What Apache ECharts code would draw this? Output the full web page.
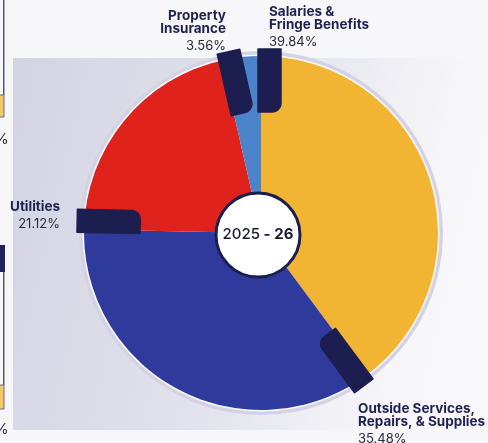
<!DOCTYPE html>
<html>
<head>
<meta charset="utf-8">
<script src="https://cdn.jsdelivr.net/npm/echarts@6/dist/echarts.min.js"></script>
<style>
  html, body { margin: 0; padding: 0; background: #f7f7fa; }
  #chart { width: 488px; height: 443px; }
</style>
</head>
<body>
<div id="chart"></div>
<script>
// Operating budget shares, clockwise from 12 o'clock
const categories = ['Salaries &\nFringe Benefits', 'Outside Services,\nRepairs, & Supplies', 'Utilities', 'Property\nInsurance'];
const shares = [39.84, 35.48, 21.12, 3.56];
const sliceColors = ['#F2B433', '#2E3B9D', '#E0221C', '#4C84CB'];
const fiscalYear = ['2025', '26'];

// Layout
const CX = 261, CY = 233, R = 177;
const NAVY = '#1C1E50';
const labelSpots = [
  { x: 269, y: 5, align: 'left' },
  { x: 358, y: 402, align: 'left' },
  { x: 60, y: 200, align: 'right' },
  { x: 226, y: 9, align: 'right' }
];

const chart = echarts.init(document.getElementById('chart'), null, { renderer: 'canvas' });

// Dark tab laid along the starting edge of each slice (angle measured clockwise from top)
function tabShape(thetaDeg) {
  const t = thetaDeg * Math.PI / 180;
  const ax = [Math.sin(t), -Math.cos(t)];
  const pv = [Math.cos(t), Math.sin(t)];
  const map = (u, v) => [CX + u * ax[0] + v * pv[0], CY + u * ax[1] + v * pv[1]];
  const r1 = R - 56, r2 = R + 7, v0 = -3, v1 = 20, rc = 9;
  const pts = [map(r2, v0), map(r2, v1)];
  for (let k = 0; k <= 8; k++) {
    const a = k / 8 * Math.PI / 2;
    pts.push(map(r1 + rc - rc * Math.sin(a), v1 - rc + rc * Math.cos(a)));
  }
  pts.push(map(r1, v0));
  return pts;
}

const total = shares.reduce((s, v) => s + v, 0);
const tabs = [];
let cum = 0;
shares.forEach((v) => {
  tabs.push({
    type: 'polygon', z: 5, silent: true,
    shape: { points: tabShape(360 * cum / total) },
    style: { fill: NAVY, stroke: NAVY, lineWidth: 1.5, lineJoin: 'round' }
  });
  cum += v;
});

const option = {
  animation: false,
  backgroundColor: '#f7f7fa',
  graphic: { elements: [
    // panel behind the chart
    {
      type: 'rect', z: 0, silent: true,
      shape: { x: 13, y: 58, width: 475, height: 372 },
      style: { fill: new echarts.graphic.LinearGradient(0, 0, 1, 0.3, [
        { offset: 0, color: '#d3d3e3' },
        { offset: 0.55, color: '#e3e3ed' },
        { offset: 0.9, color: '#f6f6f9' },
        { offset: 1, color: '#f8f8fa' }
      ]) }
    },
    // edge of the neighbouring page
    { type: 'rect', z: 0, silent: true, shape: { x: 3, y: 0, width: 1.5, height: 95 }, style: { fill: '#55586a' } },
    { type: 'rect', z: 0, silent: true, shape: { x: -2, y: 95, width: 6, height: 22 }, style: { fill: '#f2c86a', stroke: '#6a6a78', lineWidth: 1 } },
    { type: 'text', z: 0, silent: true, style: { x: -6, y: 132, text: '%', font: '15px Inter, sans-serif', fill: '#2a2a3a' } },
    { type: 'rect', z: 0, silent: true, shape: { x: -2, y: 245, width: 7, height: 27 }, style: { fill: '#1f2257' } },
    { type: 'rect', z: 0, silent: true, shape: { x: 3, y: 272, width: 1.5, height: 113 }, style: { fill: '#55586a' } },
    { type: 'rect', z: 0, silent: true, shape: { x: -2, y: 385, width: 6, height: 24 }, style: { fill: '#f2c86a', stroke: '#6a6a78', lineWidth: 1 } },
    { type: 'text', z: 0, silent: true, style: { x: -6, y: 422, text: '%', font: '15px Inter, sans-serif', fill: '#2a2a3a' } },
    // rim around the pie
    { type: 'circle', z: 1, silent: true, shape: { cx: CX, cy: CY, r: R + 5 }, style: { fill: '#d4d2e5' } },
    { type: 'circle', z: 1, silent: true, shape: { cx: CX, cy: CY, r: R + 1.5 }, style: { fill: '#fbfbfd' } },
    ...tabs,
    // centre badge
    {
      type: 'circle', z: 6, silent: true,
      shape: { cx: CX - 3, cy: CY + 2, r: 42 },
      style: { fill: '#ffffff', stroke: NAVY, lineWidth: 3 }
    },
    {
      type: 'text', z: 7, silent: true,
      x: CX - 3, y: CY + 1,
      style: {
        text: '{a|' + fiscalYear[0] + '}{b| - ' + fiscalYear[1] + '}',
        align: 'center', verticalAlign: 'middle',
        rich: {
          a: { font: '500 15px Inter, sans-serif', fill: '#1a1a2e' },
          b: { font: '700 15px Inter, sans-serif', fill: '#1a1a2e' }
        }
      }
    }
  ]},
  series: [{
    type: 'pie',
    z: 2,
    center: [CX, CY],
    radius: [0, R],
    startAngle: 90,
    clockwise: true,
    silent: true,
    emphasis: { disabled: true },
    avoidLabelOverlap: false,
    itemStyle: { borderWidth: 0 },
    labelLine: { show: false },
    label: {
      show: true,
      formatter: (p) => p.name.split('\n').map(s => '{n|' + s + '}').join('\n') + '\n{p|' + p.value.toFixed(2) + '%}',
      rich: {
        n: { fontFamily: 'Inter', fontWeight: 700, fontSize: 13.5, lineHeight: 13.5, color: '#1f2150' },
        p: { fontFamily: 'Inter', fontWeight: 400, fontSize: 13, lineHeight: 21, color: '#2a2b3c' }
      }
    },
    labelLayout: (params) => {
      const s = labelSpots[params.dataIndex];
      return { x: s.x, y: s.y, align: s.align, verticalAlign: 'top' };
    },
    data: categories.map((name, i) => ({
      name: name,
      value: shares[i],
      itemStyle: { color: sliceColors[i] },
      label: { align: labelSpots[i].align }
    }))
  }]
};

chart.setOption(option);
</script>
</body>
</html>
